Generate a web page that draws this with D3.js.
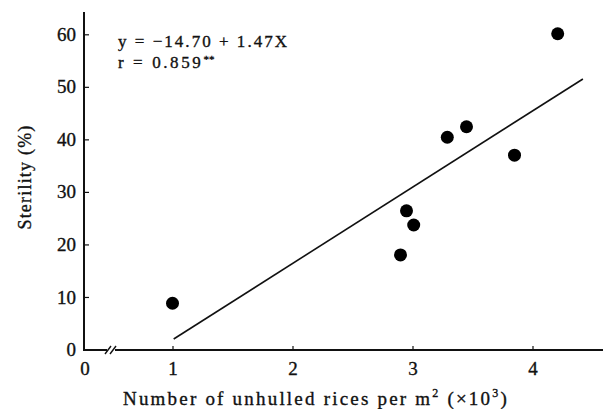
<!DOCTYPE html>
<html>
<head>
<meta charset="utf-8">
<script src="https://cdn.jsdelivr.net/npm/d3@7"></script>
<style>
  html, body { margin: 0; padding: 0; background: #fff; }
  svg { display: block; }
  text { font-family: "Liberation Serif", "Times New Roman", serif; fill: #111; stroke: #111; stroke-width: 0.35px; }
</style>
</head>
<body>
<svg id="chart" width="603" height="409"></svg>
<script>
// Panicle density (×10³ unhulled rices per m²) vs. sterility (%)
const density   = [1.00, 2.90, 2.95, 3.01, 3.29, 3.45, 3.85, 4.21];
const sterility = [8.8, 18.0, 26.4, 23.7, 40.4, 42.4, 37.0, 60.1];

// Fitted regression line as drawn (start and end of the segment)
const fitX = [1.01, 4.42];
const fitY = [2.0, 51.5];

const xTicks = [1, 2, 3, 4];
const yTicks = [0, 10, 20, 30, 40, 50, 60];
const equationText = ["y = −14.70 + 1.47X", "r = 0.859"];

const svg = d3.select("#chart");
const originX = 84, originY = 350;

const x = d3.scaleLinear().domain([1, 4]).range([172.5, 532.5]);
const y = d3.scaleLinear().domain([0, 60]).range([349.5, 34.3]);

// Axis lines with a break on the x axis near the origin
const axisG = svg.append("g").attr("stroke", "#111").attr("stroke-width", 2).attr("fill", "none");
axisG.append("line").attr("x1", originX).attr("x2", originX).attr("y1", 12).attr("y2", originY + 1);
axisG.append("line").attr("x1", originX - 1).attr("x2", 107).attr("y1", originY).attr("y2", originY);
axisG.append("line").attr("x1", 115).attr("x2", 603).attr("y1", originY).attr("y2", originY);
[105, 110].forEach(sx => {
  axisG.append("line").attr("x1", sx).attr("y1", originY + 4).attr("x2", sx + 6).attr("y2", originY - 4)
    .attr("stroke-width", 1.4);
});

// x axis ticks (inward) and labels
const xAxis = d3.axisBottom(x).tickValues(xTicks).tickSize(-4).tickPadding(12).tickFormat(d3.format("d"));
const gx = svg.append("g").attr("transform", `translate(0,${originY})`).call(xAxis);
gx.select(".domain").remove();
gx.selectAll(".tick line").attr("stroke", "#111").attr("stroke-width", 1.2);
gx.selectAll(".tick text").attr("font-size", 19).attr("fill", "#111")
  .attr("font-family", "Liberation Serif, serif");
// origin label on the broken part of the axis
svg.append("text").attr("x", originX + 1).attr("y", 375).attr("text-anchor", "middle")
  .attr("font-size", 19).text("0");

// y axis ticks (inward) and labels
const yAxis = d3.axisLeft(y).tickValues(yTicks).tickSize(-5).tickPadding(8).tickFormat(d3.format("d"));
const gy = svg.append("g").attr("transform", `translate(${originX},0)`).call(yAxis);
gy.select(".domain").remove();
gy.selectAll(".tick line").attr("stroke", "#111").attr("stroke-width", 1.2)
  .filter(d => d === 0).remove();
gy.selectAll(".tick text").attr("font-size", 19).attr("fill", "#111")
  .attr("font-family", "Liberation Serif, serif");

// Regression line
svg.append("line")
  .attr("x1", x(fitX[0])).attr("y1", y(fitY[0]))
  .attr("x2", x(fitX[1])).attr("y2", y(fitY[1]))
  .attr("stroke", "#111").attr("stroke-width", 1.6);

// Observations
svg.append("g").selectAll("circle")
  .data(density.map((d, i) => [d, sterility[i]]))
  .join("circle")
  .attr("cx", d => x(d[0])).attr("cy", d => y(d[1])).attr("r", 6.5)
  .attr("fill", "#000");

// Regression equation and correlation
const eq = svg.append("g").attr("font-size", 17);
eq.append("text").attr("x", 118).attr("y", 47)
  .attr("textLength", 169).attr("lengthAdjust", "spacing").text(equationText[0]);
const rLine = eq.append("text").attr("x", 118).attr("y", 68);
rLine.append("tspan").attr("letter-spacing", 2.6).text(equationText[1]);
rLine.append("tspan").attr("dy", -5).attr("font-size", 11).text("**");

// Axis titles
const xt = svg.append("text").attr("x", 123).attr("y", 405).attr("font-size", 19).attr("letter-spacing", 2.2);
xt.append("tspan").text("Number of unhulled rices per m");
xt.append("tspan").attr("dy", -8).attr("font-size", 12).text("2");
xt.append("tspan").attr("dy", 8).text(" (×10");
xt.append("tspan").attr("dy", -8).attr("font-size", 12).text("3");
xt.append("tspan").attr("dy", 8).text(")");

svg.append("text").attr("transform", "translate(31,177) rotate(-90)")
  .attr("text-anchor", "middle").attr("font-size", 18).attr("letter-spacing", 1.2)
  .text("Sterility (%)");
</script>
</body>
</html>
